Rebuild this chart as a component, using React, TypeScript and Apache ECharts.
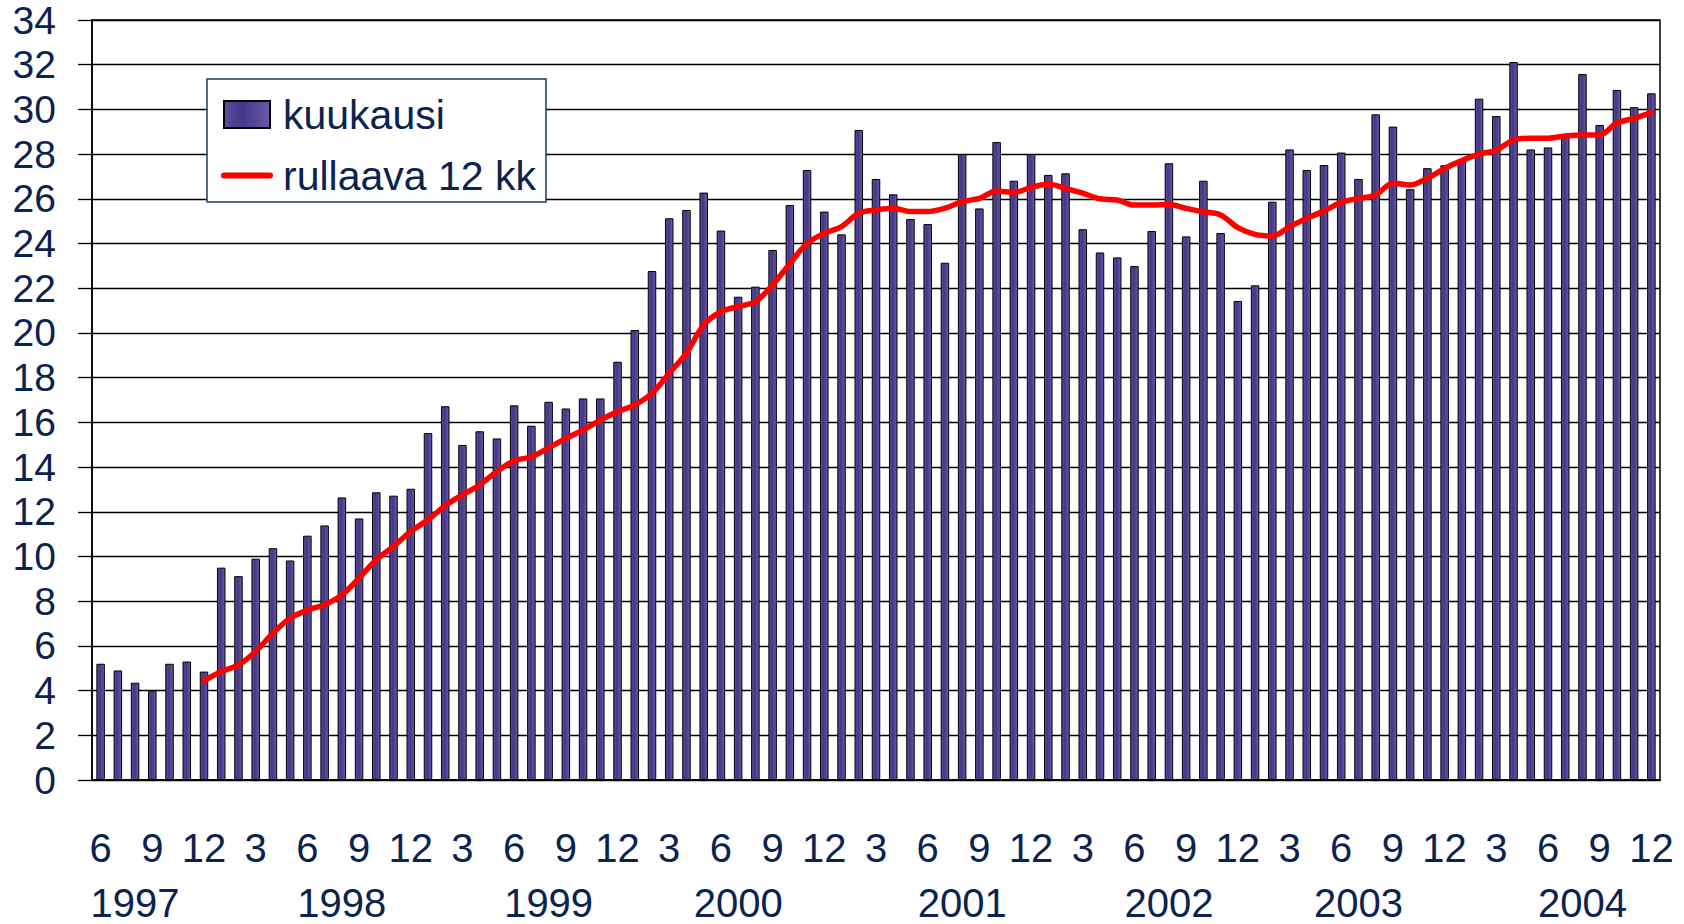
import React, { useEffect, useRef } from "react";
import * as echarts from "echarts";

// ---- data ----
const years = [1997, 1998, 1999, 2000, 2001, 2002, 2003, 2004];
const firstMonth1997 = 6;

const kuukausi1997 = [5.2, 4.9, 4.35, 4.0, 5.2, 5.3, 4.85];
const kuukausi1998 = [9.5, 9.12, 9.9, 10.37, 9.82, 10.93, 11.39, 12.64, 11.7, 12.87, 12.72, 13.03];
const kuukausi1999 = [15.52, 16.72, 14.99, 15.6, 15.28, 16.76, 15.85, 16.92, 16.62, 17.07, 17.07, 18.71];
const kuukausi2000 = [20.13, 22.77, 25.13, 25.5, 26.28, 24.58, 21.62, 22.07, 23.71, 25.72, 27.29, 25.43];
const kuukausi2001 = [24.41, 29.08, 26.89, 26.2, 25.1, 24.87, 23.14, 28.0, 25.57, 28.54, 26.81, 28.0];
const kuukausi2002 = [27.07, 27.14, 24.64, 23.6, 23.38, 22.99, 24.56, 27.59, 24.32, 26.81, 24.47, 21.43];
const kuukausi2003 = [22.13, 25.87, 28.21, 27.29, 27.51, 28.07, 26.89, 29.78, 29.23, 26.43, 27.37, 27.5];
const kuukausi2004 = [27.77, 30.48, 29.7, 32.12, 28.21, 28.3, 28.86, 31.58, 29.3, 30.87, 30.1, 30.72];

const rullaava1997 = [null, null, null, null, null, null, 4.43];
const rullaava1998 = [4.85, 5.15, 5.75, 6.57, 7.24, 7.6, 7.84, 8.28, 9.03, 9.85, 10.45, 11.12];
const rullaava1999 = [11.64, 12.27, 12.76, 13.2, 13.8, 14.28, 14.46, 14.86, 15.28, 15.66, 16.1, 16.48];
const rullaava2000 = [16.78, 17.3, 18.2, 19.1, 20.36, 20.95, 21.18, 21.4, 22.15, 23.1, 24.0, 24.46];
const rullaava2001 = [24.76, 25.35, 25.5, 25.58, 25.43, 25.43, 25.58, 25.87, 26.02, 26.35, 26.29, 26.51];
const rullaava2002 = [26.65, 26.47, 26.25, 26.0, 25.95, 25.72, 25.72, 25.75, 25.57, 25.42, 25.28, 24.71];
const rullaava2003 = [24.41, 24.34, 24.75, 25.13, 25.46, 25.84, 26.02, 26.17, 26.7, 26.62, 26.92, 27.36];
const rullaava2004 = [27.71, 28.0, 28.17, 28.63, 28.71, 28.71, 28.81, 28.86, 28.86, 29.39, 29.6, 29.87];

const yearLabels = ["1997", "1998", "1999", "2000", "2001", "2002", "2003", "2004"];
const yearLabelAt = ["1997-8", "1998-8", "1999-8", "2000-7", "2001-8", "2002-8", "2003-7", "2004-8"];

const yMin = 0;
const yMax = 34;
const yStep = 2;

// ---- derived ----
const categories: string[] = [];
years.forEach((y) => {
  const start = y === 1997 ? firstMonth1997 : 1;
  for (let m = start; m <= 12; m++) categories.push(`${y}-${m}`);
});
const kuukausi = [
  ...kuukausi1997, ...kuukausi1998, ...kuukausi1999, ...kuukausi2000,
  ...kuukausi2001, ...kuukausi2002, ...kuukausi2003, ...kuukausi2004,
];
const rullaava = [
  ...rullaava1997, ...rullaava1998, ...rullaava1999, ...rullaava2000,
  ...rullaava2001, ...rullaava2002, ...rullaava2003, ...rullaava2004,
];
const yearMap: Record<string, string> = {};
yearLabelAt.forEach((c, i) => (yearMap[c] = yearLabels[i]));

const FONT = '"Liberation Sans", Arial, sans-serif';
const TEXT = "#0b2350";

export default function App() {
  const ref = useRef<HTMLDivElement>(null);
  useEffect(() => {
    if (!ref.current) return;
    const chart = echarts.init(ref.current, undefined, { renderer: "svg" });
    const barFill = new echarts.graphic.LinearGradient(0, 0, 1, 0, [
      { offset: 0, color: "#5d4d9a" },
      { offset: 0.4, color: "#46368a" },
      { offset: 0.75, color: "#5a4a98" },
      { offset: 1, color: "#6c5ca8" },
    ]);
    chart.setOption({
      animation: false,
      backgroundColor: "#ffffff",
      grid: {
        left: 92,
        right: 24,
        top: 20,
        bottom: 144,
        show: true,
        borderColor: "#000",
        borderWidth: 1.5,
        backgroundColor: "transparent",
      },
      legend: {
        left: 207,
        top: 79,
        orient: "vertical",
        padding: [15, 10, 6, 14],
        itemWidth: 46,
        itemHeight: 27,
        itemGap: 20,
        backgroundColor: "#fff",
        borderColor: "#1f3864",
        borderWidth: 1.5,
        textStyle: { fontSize: 41, color: TEXT, fontFamily: FONT, padding: [0, 0, 0, 8] },
        data: [
          { name: "kuukausi", icon: "rect" },
          {
            name: "rullaava 12 kk",
            itemStyle: { color: "rgba(0,0,0,0)", borderWidth: 0, opacity: 0 },
            lineStyle: { color: "#ff0000", width: 6, cap: "round", opacity: 1 },
          },
        ],
      },
      xAxis: [
        {
          type: "category",
          data: categories,
          boundaryGap: true,
          axisLine: { show: true, lineStyle: { color: "#000", width: 2 } },
          axisTick: { show: false },
          splitLine: { show: false },
          axisLabel: {
            interval: 2,
            margin: 48,
            fontSize: 40,
            color: TEXT,
            fontFamily: FONT,
            formatter: (v: string) => v.split("-")[1],
          },
        },
        {
          type: "category",
          data: categories,
          position: "bottom",
          axisLine: { show: false },
          axisTick: { show: false },
          splitLine: { show: false },
          axisLabel: {
            interval: 0,
            margin: 103,
            fontSize: 40,
            color: TEXT,
            fontFamily: FONT,
            formatter: (v: string) => yearMap[v] ?? "",
          },
        },
      ],
      yAxis: {
        type: "value",
        min: yMin,
        max: yMax,
        interval: yStep,
        axisLine: { show: true, lineStyle: { color: "#000", width: 1.5 } },
        axisTick: { show: true, inside: false, length: 14, lineStyle: { color: "#000", width: 1.3 } },
        splitLine: { show: true, lineStyle: { color: "#000", width: 1.3 } },
        axisLabel: { margin: 36, fontSize: 39, lineHeight: 32, color: TEXT, fontFamily: FONT },
      },
      series: [
        {
          name: "kuukausi",
          type: "bar",
          data: kuukausi,
          barWidth: 8.5,
          itemStyle: { color: barFill, borderColor: "#000", borderWidth: 1 },
          z: 2,
        },
        {
          name: "rullaava 12 kk",
          type: "line",
          data: rullaava,
          smooth: 0.35,
          symbol: "none",
          connectNulls: false,
          lineStyle: { color: "#ff0000", width: 5.5, cap: "round", join: "round" },
          itemStyle: { color: "#ff0000" },
          z: 3,
        },
      ],
    });
    return () => chart.dispose();
  }, []);
  return (
    <div
      ref={ref}
      style={{ position: "absolute", left: 0, top: 0, width: 1684, height: 924, background: "#fff" }}
    />
  );
}
